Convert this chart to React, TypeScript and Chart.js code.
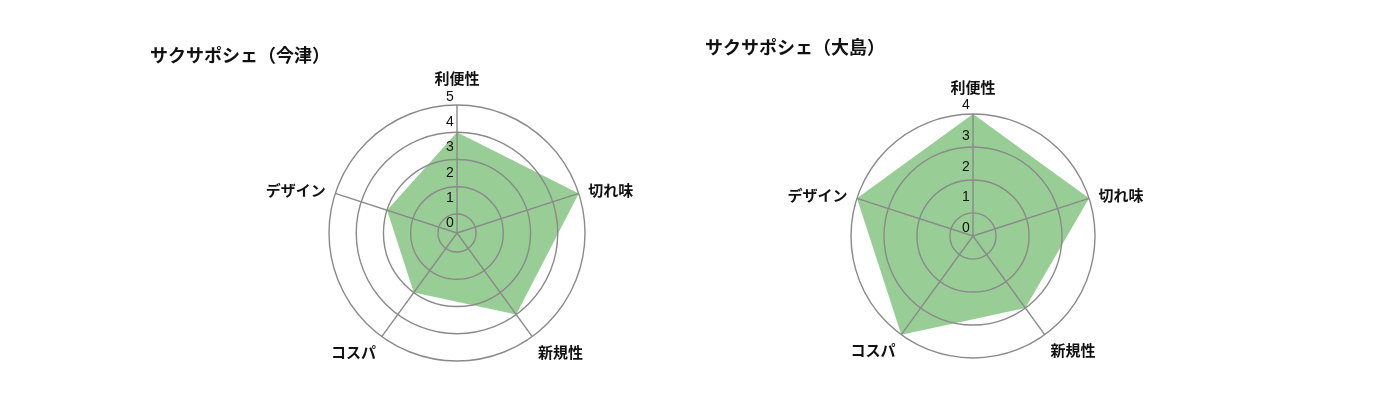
import { useEffect, useRef } from "react"
import { Chart, registerables, type ChartConfiguration, type Plugin } from "chart.js"

Chart.register(...registerables)

const AXIS_LABELS = ["利便性", "切れ味", "新規性", "コスパ", "デザイン"]
const IMAZU_SCORES = [4, 5, 4, 3, 3]
const OSHIMA_SCORES = [4, 4, 3, 4, 4]
const IMAZU_TICKS = [0, 1, 2, 3, 4, 5]
const OSHIMA_TICKS = [0, 1, 2, 3, 4]

const JP_FONT = '"Noto Sans CJK JP", "Noto Sans", sans-serif'
const NUM_FONT = '"Liberation Sans", Arial, sans-serif'
const FILL_COLOR = "#98ce96"
const GRID_COLOR = "#8a8a8a"
const TEXT_COLOR = "#111"

// the web's centre sits a bit below "1", as in the original image
const SCALE_MIN = 0.3

// axis names and tick numbers are placed by hand (using the scale's geometry)
const radarLabels: Plugin<"radar"> = {
  id: "radarLabels",
  afterDraw(chart, _args, opts: any) {
    const scale: any = chart.scales.r
    const ctx = chart.ctx
    const labels = (chart.data.labels || []) as string[]
    ctx.save()
    ctx.fillStyle = TEXT_COLOR

    ctx.font = `bold 15px ${JP_FONT}`
    labels.forEach((label, i) => {
      const pos = scale.getPointPosition(i, scale.drawingArea + 10)
      let deg = (((pos.angle + Math.PI / 2) * 180) / Math.PI) % 360
      if (deg < 0) deg += 360
      if (deg < 10 || deg > 350) {
        ctx.textAlign = "center"
        ctx.textBaseline = "bottom"
        ctx.fillText(label, pos.x, pos.y - 9)
        return
      }
      ctx.textAlign = deg < 180 ? "left" : "right"
      ctx.textBaseline = deg < 110 || deg > 250 ? "middle" : "top"
      ctx.fillText(label, pos.x, pos.y)
    })

    // numbers run up the top spoke, a little tighter than the rings
    ctx.font = `14px ${NUM_FONT}`
    ctx.textAlign = "center"
    ctx.textBaseline = "middle"
    ;(opts.ticks as number[]).forEach((v) => {
      const d = scale.getDistanceFromCenterForValue(v)
      ctx.fillText(String(v), scale.xCenter - 7, scale.yCenter - (d * 0.93 + 17))
    })
    ctx.restore()
  },
}

interface RadarProps {
  title: string
  scores: number[]
  ticks: number[]
  max: number
  box: { left: number; top: number; width: number; height: number }
  titlePadding: { top: number; bottom: number }
  padding: { right: number; bottom: number }
}

function RadarChart({ title, scores, ticks, max, box, titlePadding, padding }: RadarProps) {
  const chartRef = useRef<HTMLCanvasElement>(null)
  const chartInstance = useRef<Chart | null>(null)

  useEffect(() => {
    if (!chartRef.current) return
    const ctx = chartRef.current.getContext("2d")
    if (!ctx) return

    if (chartInstance.current) {
      chartInstance.current.destroy()
    }

    const config: ChartConfiguration<"radar"> = {
      type: "radar",
      data: {
        labels: AXIS_LABELS,
        datasets: [
          {
            data: scores,
            backgroundColor: FILL_COLOR,
            borderWidth: 0,
            pointRadius: 0,
            fill: true,
          },
        ],
      },
      options: {
        responsive: true,
        maintainAspectRatio: false,
        animation: false,
        layout: { padding: { left: 0, top: 0, right: padding.right, bottom: padding.bottom } },
        scales: {
          r: {
            min: SCALE_MIN,
            max,
            ticks: { stepSize: 1, display: false },
            grid: { color: GRID_COLOR, lineWidth: 1.4, circular: true, z: 1 },
            angleLines: { color: GRID_COLOR, lineWidth: 1.4 },
            pointLabels: { display: false },
          },
        },
        plugins: {
          legend: { display: false },
          tooltip: { enabled: false },
          title: {
            display: true,
            text: title,
            align: "start",
            color: TEXT_COLOR,
            font: { family: JP_FONT, size: 18, weight: "bold" },
            padding: titlePadding,
          },
          // @ts-ignore custom plugin options
          radarLabels: { ticks },
        },
      },
      plugins: [radarLabels],
    }

    chartInstance.current = new Chart(ctx, config)

    return () => {
      if (chartInstance.current) {
        chartInstance.current.destroy()
        chartInstance.current = null
      }
    }
  }, [title, scores, ticks, max])

  return (
    <div style={{ position: "absolute", ...box }}>
      <canvas ref={chartRef} />
    </div>
  )
}

export default function App() {
  return (
    <div style={{ position: "absolute", left: 0, top: 0, width: 1400, height: 420, background: "#fff" }}>
      <RadarChart
        title="サクサポシェ（今津）"
        scores={IMAZU_SCORES}
        ticks={IMAZU_TICKS}
        max={5}
        box={{ left: 150, top: 30, width: 640, height: 351 }}
        titlePadding={{ top: 14, bottom: 39.4 }}
        padding={{ right: 26, bottom: 20 }}
      />
      <RadarChart
        title="サクサポシェ（大島）"
        scores={OSHIMA_SCORES}
        ticks={OSHIMA_TICKS}
        max={4}
        box={{ left: 705, top: 20, width: 560, height: 360 }}
        titlePadding={{ top: 16, bottom: 55.7 }}
        padding={{ right: 24, bottom: 21.3 }}
      />
    </div>
  )
}
